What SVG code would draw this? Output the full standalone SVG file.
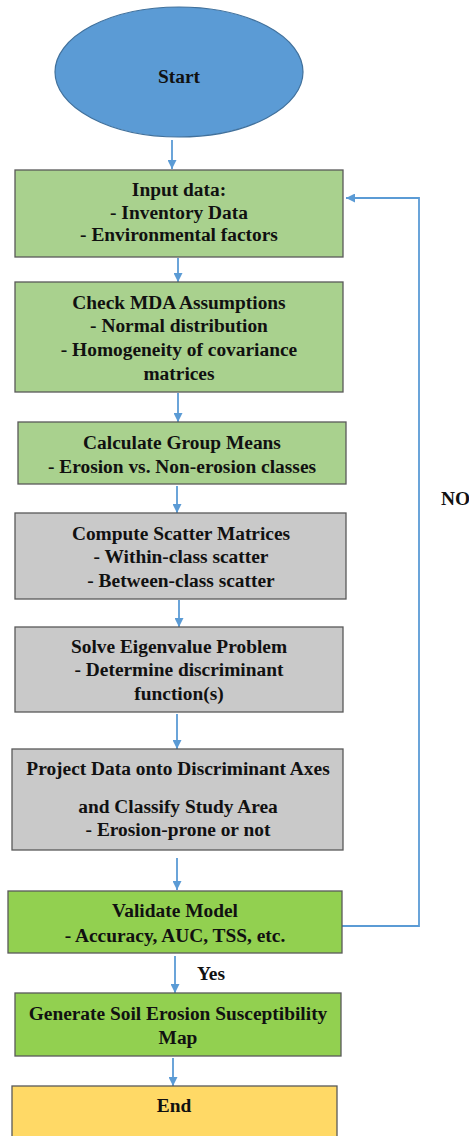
<svg xmlns="http://www.w3.org/2000/svg" width="469" height="1136" viewBox="0 0 469 1136">
  <defs>
    <marker id="arrow" viewBox="0 0 10 10" refX="10" refY="5" markerWidth="9" markerHeight="9" markerUnits="userSpaceOnUse" orient="auto">
      <path d="M0,0 L10,5 L0,10 z" fill="#5B9BD5"/>
    </marker>
  </defs>
  <style>
    .box { stroke: #595959; stroke-width: 1.3; }
    .green { fill: #A9D18E; }
    .gray { fill: #C9C9C9; }
    .lime { fill: #92D050; }
    .gold { fill: #FFD966; }
    .label { font-family: "Liberation Serif", "Times New Roman", serif; font-weight: bold; font-size: 19.4px; fill: #111; text-anchor: middle; dominant-baseline: central; }
    .conn { fill: none; stroke: #5B9BD5; stroke-width: 1.8; marker-end: url(#arrow); }
  </style>
  <rect width="469" height="1136" fill="#ffffff"/>

  <!-- connectors -->
  <g id="connectors">
    <path class="conn" d="M172,140 V169"/>
    <path class="conn" d="M178,258 V282"/>
    <path class="conn" d="M178,393 V422"/>
    <path class="conn" d="M177,486 V513"/>
    <path class="conn" d="M179,600 V627"/>
    <path class="conn" d="M177,714 V749"/>
    <path class="conn" d="M177,858 V890"/>
    <path class="conn" d="M175,956 V993"/>
    <path class="conn" d="M173,1058 V1086"/>
    <path class="conn" d="M342,926 H419 V198 H346"/>
    <text class="label" x="441" y="498" style="text-anchor:start">NO</text>
    <text class="label" x="211" y="973">Yes</text>
  </g>

  <g id="start">
    <ellipse cx="179" cy="72" rx="124" ry="65" fill="#5B9BD5" stroke="#41719C" stroke-width="1.2"/>
    <text class="label" x="179" y="76">Start</text>
  </g>

  <g id="input-data">
    <rect class="box green" x="15" y="170" width="328" height="87"/>
    <text class="label" x="179" y="189">Input data:</text>
    <text class="label" x="179" y="212">- Inventory Data</text>
    <text class="label" x="179" y="234">- Environmental factors</text>
  </g>

  <g id="check-assumptions">
    <rect class="box green" x="15" y="282" width="328" height="110"/>
    <text class="label" x="179" y="302">Check MDA Assumptions</text>
    <text class="label" x="179" y="325">- Normal distribution</text>
    <text class="label" x="179" y="349">- Homogeneity of covariance</text>
    <text class="label" x="179" y="373">matrices</text>
  </g>

  <g id="group-means">
    <rect class="box green" x="18" y="422" width="328" height="62"/>
    <text class="label" x="182" y="442">Calculate Group Means</text>
    <text class="label" x="182" y="466">- Erosion vs. Non-erosion classes</text>
  </g>

  <g id="scatter">
    <rect class="box gray" x="15" y="513" width="331" height="86"/>
    <text class="label" x="181" y="533">Compute Scatter Matrices</text>
    <text class="label" x="181" y="556">- Within-class scatter</text>
    <text class="label" x="181" y="580">- Between-class scatter</text>
  </g>

  <g id="eigen">
    <rect class="box gray" x="15" y="627" width="328" height="85"/>
    <text class="label" x="179" y="646">Solve Eigenvalue Problem</text>
    <text class="label" x="179" y="669">- Determine discriminant</text>
    <text class="label" x="179" y="693">function(s)</text>
  </g>

  <g id="project">
    <rect class="box gray" x="12" y="749" width="331" height="101"/>
    <text class="label" x="178" y="768">Project Data onto Discriminant Axes</text>
    <text class="label" x="178" y="806">and Classify Study Area</text>
    <text class="label" x="178" y="829">- Erosion-prone or not</text>
  </g>

  <g id="validate">
    <rect class="box lime" x="8" y="891" width="334" height="62"/>
    <text class="label" x="175" y="910">Validate Model</text>
    <text class="label" x="175" y="935">- Accuracy, AUC, TSS, etc.</text>
  </g>

  <g id="generate-map">
    <rect class="box lime" x="15" y="993" width="326" height="63"/>
    <text class="label" x="178" y="1013">Generate Soil Erosion Susceptibility</text>
    <text class="label" x="178" y="1037">Map</text>
  </g>

  <g id="end">
    <rect class="box gold" x="12" y="1086" width="325" height="70"/>
    <text class="label" x="174" y="1105">End</text>
  </g>
</svg>
